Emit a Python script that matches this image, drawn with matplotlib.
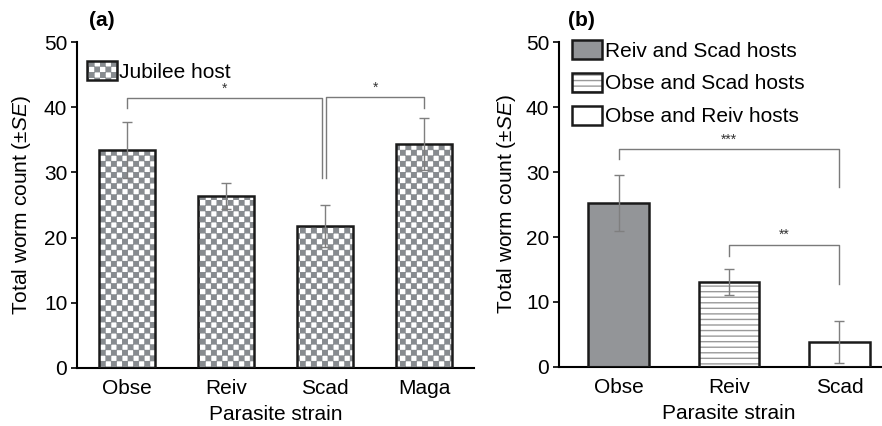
import numpy as np
import matplotlib
matplotlib.use("Agg")
import matplotlib.pyplot as plt
import matplotlib.hatch as mhatch
from matplotlib.path import Path

plt.rcParams['font.family'] = ['Liberation Sans', 'DejaVu Sans']
plt.rcParams['mathtext.fontset'] = 'custom'
plt.rcParams['mathtext.rm'] = 'Liberation Sans'
plt.rcParams['mathtext.it'] = 'Liberation Sans:italic'
plt.rcParams['font.size'] = 15
plt.rcParams['hatch.linewidth'] = 1.0

# ---- data ----
strains_a = ['Obse', 'Reiv', 'Scad', 'Maga']
means_a = [33.4, 26.4, 21.8, 34.4]
se_a = [4.3, 2.0, 3.2, 4.0]

strains_b = ['Obse', 'Reiv', 'Scad']
means_b = [25.2, 13.1, 3.8]
se_b = [4.3, 2.0, 3.2]
labels_b = ['Reiv and Scad hosts', 'Obse and Scad hosts', 'Obse and Reiv hosts']

# significance brackets: (x left, x right, bar height, left tip, right tip, stars)
brackets_a = [(0, 1.97, 41.4, 39.9, 29.1, '*'),
              (2.01, 3, 41.5, 29.1, 39.9, '*')]
brackets_b = [(0, 2, 33.5, 32.0, 27.7, '***'),
              (1, 2, 18.8, 17.1, 12.8, '**')]

CHECK = '#878b8f'
GREY = '#939598'
ERR = '#7f7f7f'
FS = 15


# checkerboard hatch (takes over the 'O' hatch character)
class CheckerHatch(mhatch.HatchPatternBase):
    def __init__(self, hatch, density):
        self.n = hatch.count('O') * 18
        self.num_vertices = (self.n * self.n // 2) * 5

    def set_vertices_and_codes(self, vertices, codes):
        s = 1.0 / self.n
        d = 0.005  # shrink a bit, the hatch gets stroked too
        k = 0
        for i in range(self.n):
            for j in range(self.n):
                if (i + j) % 2:
                    continue
                x0, y0 = i * s, j * s
                vertices[k:k + 5] = [(x0 + d, y0 + d), (x0 + s - d, y0 + d),
                                     (x0 + s - d, y0 + s - d), (x0 + d, y0 + s - d),
                                     (x0 + d, y0 + d)]
                codes[k] = Path.MOVETO
                codes[k + 1:k + 4] = Path.LINETO
                codes[k + 4] = Path.CLOSEPOLY
                k += 5


mhatch._hatch_types = [t for t in mhatch._hatch_types
                       if t is not mhatch.LargeCircles] + [CheckerHatch]


def style_axes(ax, ylim_top=50):
    ax.set_ylim(0, ylim_top)
    ax.set_yticks([0, 10, 20, 30, 40, 50])
    ax.spines['top'].set_visible(False)
    ax.spines['right'].set_visible(False)
    ax.spines['left'].set_linewidth(1.5)
    ax.spines['bottom'].set_linewidth(1.5)
    ax.tick_params(axis='y', length=4, width=1.2, pad=3, labelsize=FS)
    ax.tick_params(axis='x', length=0, pad=8, labelsize=FS)
    ax.set_ylabel('Total worm count (±$\\it{SE}$)', fontsize=FS)
    ax.set_xlabel('Parasite strain', fontsize=FS)


def draw_brackets(ax, brackets):
    for x1, x2, h, t1, t2, s in brackets:
        ax.plot([x1, x1, x2, x2], [t1, h, h, t2], color='#7a7a7a', lw=1.0, zorder=4)
        ax.text((x1 + x2) / 2, h + 0.4, s, ha='center', va='bottom', fontsize=10,
                color='#333333')


fig = plt.figure(figsize=(8.82, 4.26), dpi=100)

# ---- (a) ----
ax0 = fig.add_axes([0.0873, 0.1362, 0.450, 0.7652])
xa = np.arange(len(strains_a))
b_fill = ax0.bar(xa, means_a, width=0.565, color='white', edgecolor=CHECK,
                 linewidth=0, hatch='O', zorder=2)
b_edge = ax0.bar(xa, means_a, width=0.565, color='none', edgecolor='#1a1a1a',
                 linewidth=1.8, zorder=3)
ax0.errorbar(xa, means_a, yerr=se_a, fmt='none', ecolor=ERR, elinewidth=1.0,
             capsize=3.9, capthick=1.0, zorder=5)
ax0.set_xlim(-0.5, 3.5)
ax0.set_xticks(xa)
ax0.set_xticklabels(strains_a)
style_axes(ax0)
ax0.yaxis.set_label_coords(-0.111, 0.5)
ax0.xaxis.set_label_coords(0.5, -0.113)
draw_brackets(ax0, brackets_a)
ax0.legend([(b_fill[0], b_edge[0])], ['Jubilee host'], loc='center left',
           bbox_to_anchor=(0.025, 0.909), frameon=False, borderpad=0,
           borderaxespad=0, handlelength=1.44, handleheight=1.0,
           handletextpad=0.12, fontsize=FS)
ax0.text(0.03, 1.067, '(a)', transform=ax0.transAxes, ha='left', va='center',
         fontweight='bold', fontsize=FS)

# ---- (b) ----
ax1 = fig.add_axes([0.6338, 0.1385, 0.3662, 0.7629])
xb = np.arange(len(strains_b))
fills_b = [GREY, 'white', 'white']
hatch_b = [None, '---', None]
hatch_col = [GREY, '#9a9a9a', 'white']
handles = []
for i in range(len(strains_b)):
    f = ax1.bar(xb[i], means_b[i], width=0.55, color=fills_b[i],
                edgecolor=hatch_col[i], linewidth=0, hatch=hatch_b[i], zorder=2)
    e = ax1.bar(xb[i], means_b[i], width=0.55, color='none', edgecolor='#1a1a1a',
                linewidth=1.8, zorder=3)
    handles.append((f[0], e[0]))
ax1.errorbar(xb, means_b, yerr=se_b, fmt='none', ecolor=ERR, elinewidth=1.0,
             capsize=3.9, capthick=1.0, zorder=5)
ax1.set_xlim(-0.54, 2.385)
ax1.set_xticks(xb)
ax1.set_xticklabels(strains_b)
style_axes(ax1)
ax1.yaxis.set_label_coords(-0.126, 0.5)
ax1.xaxis.set_label_coords(0.526, -0.115)
draw_brackets(ax1, brackets_b)
ax1.legend(handles, labels_b, loc='upper left', bbox_to_anchor=(0.04, 1.006),
           frameon=False, borderpad=0, borderaxespad=0, handlelength=1.44,
           handleheight=1.0, handletextpad=0.15, labelspacing=0.6, fontsize=FS)
ax1.text(0.028, 1.067, '(b)', transform=ax1.transAxes, ha='left', va='center',
         fontweight='bold', fontsize=FS)

plt.savefig('out.png', dpi=100)
